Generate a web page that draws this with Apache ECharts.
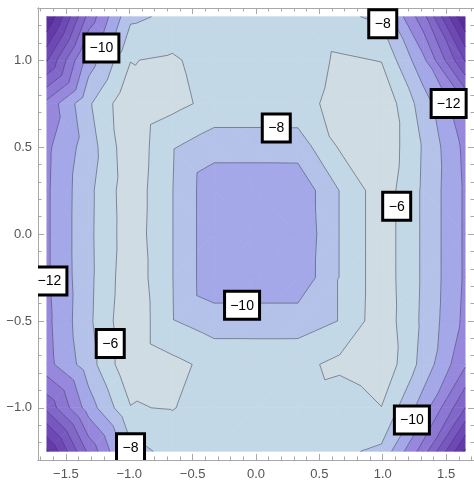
<!DOCTYPE html>
<html>
<head>
<meta charset="utf-8">
<script src="https://cdn.jsdelivr.net/npm/echarts@6/dist/echarts.min.js"></script>
<style>
  html, body { margin: 0; padding: 0; background: #ffffff; }
  #chart { width: 474px; height: 481px; }
</style>
</head>
<body>
<div id="chart"></div>
<script>
// Sample grid: x positions of the columns, y positions of the rows (top row first)
const xNodes = [-1.65, -1.32, -0.99, -0.66, -0.33, 0, 0.33, 0.66, 0.99, 1.32, 1.65];
const yNodes = [1.25, 1.0, 0.75, 0.5, 0.25, 0, -0.25, -0.5, -0.75, -1.0, -1.25];

// Sampled surface values, one row per y position
const zGrid = [
  [-26.0, -15.3, -8.4, -7.6, -7.2, -7.2, -7.2, -7.6, -8.4, -15.3, -26.0],
  [-20.2, -11.0, -6.08, -5.7, -7.0, -7.0, -7.0, -5.7, -6.08, -11.5, -20.2],
  [-13.4, -8.3, -4.3, -5.4, -6.6, -6.6, -6.6, -5.45, -4.3, -9.0, -13.8],
  [-12.4, -9.0, -4.5, -7.85, -9.15, -9.15, -9.12, -5.8, -4.3, -8.2, -12.5],
  [-12.3, -8.5, -4.7, -7.95, -11.5, -11.5, -11.5, -7.95, -4.8, -8.3, -12.3],
  [-12.3, -8.45, -4.8, -7.95, -11.5, -11.6, -11.7, -7.95, -4.8, -8.3, -12.3],
  [-12.3, -8.5, -4.6, -7.95, -11.5, -11.5, -11.5, -7.95, -4.8, -8.3, -12.3],
  [-12.5, -8.4, -4.3, -7.9, -8.96, -8.96, -8.96, -7.95, -4.7, -8.4, -12.5],
  [-12.7, -8.9, -4.3, -5.46, -6.6, -6.62, -6.6, -5.45, -4.4, -8.7, -13.7],
  [-17.5, -11.0, -6.1, -5.9, -7.0, -7.0, -7.0, -7.65, -6.05, -11.0, -18.0],
  [-24.3, -15.5, -8.6, -7.5, -7.3, -7.3, -7.3, -7.6, -8.4, -15.0, -24.3]
];

// Contour levels and the fill of each band (lowest band first)
const levels = [-24, -22, -20, -18, -16, -14, -12, -10, -8, -6];
const bandColors = ['#5a2c9e', '#6439aa', '#6e48b6', '#7857c1', '#8267cb', '#8c77d4',
                    '#9788de', '#a4a7e8', '#b4c2e9', '#c3d8e6', '#cfdce3'];

// Contour labels: [x, y, level]
const contourLabels = [
  [-1.22, 1.07, -10],
  [1.00, 1.21, -8],
  [1.52, 0.75, -12],
  [0.16, 0.61, -8],
  [1.11, 0.16, -6],
  [-0.11, -0.41, -10],
  [-1.63, -0.27, -12],
  [-1.15, -0.63, -6],
  [-0.99, -1.23, -8],
  [1.23, -1.07, -10]
];

// Axis tick labels
const xTickLabels = [-1.5, -1.0, -0.5, 0, 0.5, 1.0, 1.5];
const yTickLabels = [-1.0, -0.5, 0, 0.5, 1.0];

// ---- triangulated mesh ----
const tris = [];
const node = (r, c) => ({ x: xNodes[c], y: yNodes[r], z: zGrid[r][c], id: r * xNodes.length + c });
for (let i = 0; i < yNodes.length - 1; i++) {
  for (let j = 0; j < xNodes.length - 1; j++) {
    const tl = node(i, j), tr = node(i, j + 1), bl = node(i + 1, j), br = node(i + 1, j + 1);
    if ((yNodes[i] + yNodes[i + 1]) / 2 > 0) {
      tris.push([tl, tr, br], [tl, br, bl]);
    } else {
      tris.push([tl, tr, bl], [tr, br, bl]);
    }
  }
}
// keep node values off the contour levels
tris.forEach(t => t.forEach(p => { if (levels.includes(p.z)) p.z += 1e-6; }));

// ---- filled bands ----
function clipPoly(poly, level, keepAbove) {
  const out = [];
  for (let k = 0; k < poly.length; k++) {
    const a = poly[k], b = poly[(k + 1) % poly.length];
    const ina = keepAbove ? a.z >= level : a.z <= level;
    const inb = keepAbove ? b.z >= level : b.z <= level;
    if (ina) out.push(a);
    if (ina !== inb) {
      const t = (level - a.z) / (b.z - a.z);
      out.push({ x: a.x + t * (b.x - a.x), y: a.y + t * (b.y - a.y), z: level });
    }
  }
  return out;
}
const bandPolys = [];
tris.forEach(tri => {
  for (let k = 0; k <= levels.length; k++) {
    let poly = tri.slice();
    if (k > 0) poly = clipPoly(poly, levels[k - 1], true);
    if (poly.length >= 3 && k < levels.length) poly = clipPoly(poly, levels[k], false);
    if (poly.length >= 3) bandPolys.push({ band: k, pts: poly.map(p => [p.x, p.y]) });
  }
});

// ---- contour lines (segments joined into polylines) ----
function contourLines(level) {
  const segs = [];
  tris.forEach(tri => {
    const pts = [];
    for (let k = 0; k < 3; k++) {
      const a = tri[k], b = tri[(k + 1) % 3];
      if ((a.z < level) !== (b.z < level)) {
        const t = (level - a.z) / (b.z - a.z);
        pts.push({ key: Math.min(a.id, b.id) + '-' + Math.max(a.id, b.id),
                   p: [a.x + t * (b.x - a.x), a.y + t * (b.y - a.y)] });
      }
    }
    if (pts.length === 2) segs.push(pts);
  });
  const byKey = new Map();
  segs.forEach((s, idx) => s.forEach(e => {
    if (!byKey.has(e.key)) byKey.set(e.key, []);
    byKey.get(e.key).push(idx);
  }));
  const used = new Array(segs.length).fill(false);
  const lines = [];
  const extend = arr => {
    for (;;) {
      const last = arr[arr.length - 1];
      const cand = (byKey.get(last.key) || []).find(i => !used[i]);
      if (cand === undefined) break;
      used[cand] = true;
      const s = segs[cand];
      arr.push(s[0].key === last.key ? s[1] : s[0]);
    }
  };
  for (let s0 = 0; s0 < segs.length; s0++) {
    if (used[s0]) continue;
    used[s0] = true;
    const line = [segs[s0][0], segs[s0][1]];
    extend(line);
    line.reverse();
    extend(line);
    lines.push(line.map(e => e.p));
  }
  return lines;
}
const allLines = [];
levels.forEach(lv => contourLines(lv).forEach(pts => allLines.push({ level: lv, pts })));

// ---- axes ----
const fmt = v => (v < 0 ? '\u2212' : '') + Math.abs(v).toFixed(1);
const lblFmt = v => (v < 0 ? '\u2212' : '') + Math.abs(v);
const axisColor = '#a8a8a8';
const minorVals = (lo, hi, major) => {
  const out = [];
  for (let k = Math.round(lo * 10); k <= Math.round(hi * 10); k++) {
    const v = k / 10;
    if (!major.some(m => Math.abs(m - v) < 1e-9)) out.push(v);
  }
  return out;
};
const xMinor = minorVals(-1.7, 1.7, xTickLabels);
const yMinor = minorVals(-1.3, 1.3, yTickLabels);
const fontFamily = '"Liberation Sans", Arial, sans-serif';

function axis(kind, position, ticks, len, labels) {
  const range = kind === 'x' ? { min: -1.72, max: 1.72 } : { min: -1.3, max: 1.3 };
  return Object.assign({
    type: 'value', gridIndex: 0, position,
    axisLine: { show: true, onZero: false, lineStyle: { color: axisColor, width: 1 } },
    axisTick: { show: true, inside: true, length: len, customValues: ticks, lineStyle: { color: axisColor, width: 1 } },
    axisLabel: labels ? {
      show: true, customValues: ticks, formatter: fmt, color: '#555555', fontSize: 13,
      fontFamily, margin: kind === 'x' ? 8 : 6
    } : { show: false },
    splitLine: { show: false },
    axisPointer: { show: false }
  }, range);
}

const chart = echarts.init(document.getElementById('chart'), null, { renderer: 'canvas' });
chart.setOption({
  animation: false,
  backgroundColor: '#ffffff',
  grid: { left: 38, right: -2, top: 8, bottom: 18, containLabel: false },
  xAxis: [
    axis('x', 'bottom', xTickLabels, 6, true),
    axis('x', 'bottom', xMinor, 3.5, false),
    axis('x', 'top', xTickLabels, 6, false),
    axis('x', 'top', xMinor, 3.5, false)
  ],
  yAxis: [
    axis('y', 'left', yTickLabels, 6, true),
    axis('y', 'left', yMinor, 3.5, false),
    axis('y', 'right', yTickLabels, 6, false),
    axis('y', 'right', yMinor, 3.5, false)
  ],
  series: [
    {
      type: 'custom', name: 'bands', xAxisIndex: 0, yAxisIndex: 0, silent: true,
      data: bandPolys.map(p => p.pts[0]),
      encode: { x: 0, y: 1 },
      renderItem: (params, api) => {
        const p = bandPolys[params.dataIndex];
        const col = bandColors[p.band];
        return {
          type: 'polygon',
          shape: { points: p.pts.map(q => api.coord(q)) },
          style: { fill: col, stroke: col, lineWidth: 0.7 }
        };
      }
    },
    {
      type: 'custom', name: 'contours', xAxisIndex: 0, yAxisIndex: 0, silent: true,
      data: allLines.map(l => l.pts[0]),
      encode: { x: 0, y: 1 },
      renderItem: (params, api) => {
        const l = allLines[params.dataIndex];
        return {
          type: 'polyline',
          shape: { points: l.pts.map(q => api.coord(q)) },
          style: { fill: null, stroke: 'rgba(45,45,70,0.5)', lineWidth: 1 }
        };
      }
    },
    {
      type: 'custom', name: 'labels', xAxisIndex: 0, yAxisIndex: 0, silent: true, clip: true,
      data: contourLabels.map(d => [d[0], d[1]]),
      encode: { x: 0, y: 1 },
      renderItem: (params, api) => {
        const d = contourLabels[params.dataIndex];
        const c = api.coord([d[0], d[1]]);
        const txt = lblFmt(d[2]);
        const w = txt.length > 2 ? 35 : 28, h = 28;
        return {
          type: 'group',
          children: [
            { type: 'rect', shape: { x: c[0] - w / 2, y: c[1] - h / 2, width: w, height: h },
              style: { fill: '#ffffff', stroke: '#000000', lineWidth: 3 } },
            { type: 'text', x: c[0], y: c[1] + 0.5,
              style: { text: txt, fill: '#000000', fontSize: 14, fontFamily,
                       align: 'center', verticalAlign: 'middle',
                       textAlign: 'center', textVerticalAlign: 'middle' } }
          ]
        };
      }
    }
  ]
});
</script>
</body>
</html>
